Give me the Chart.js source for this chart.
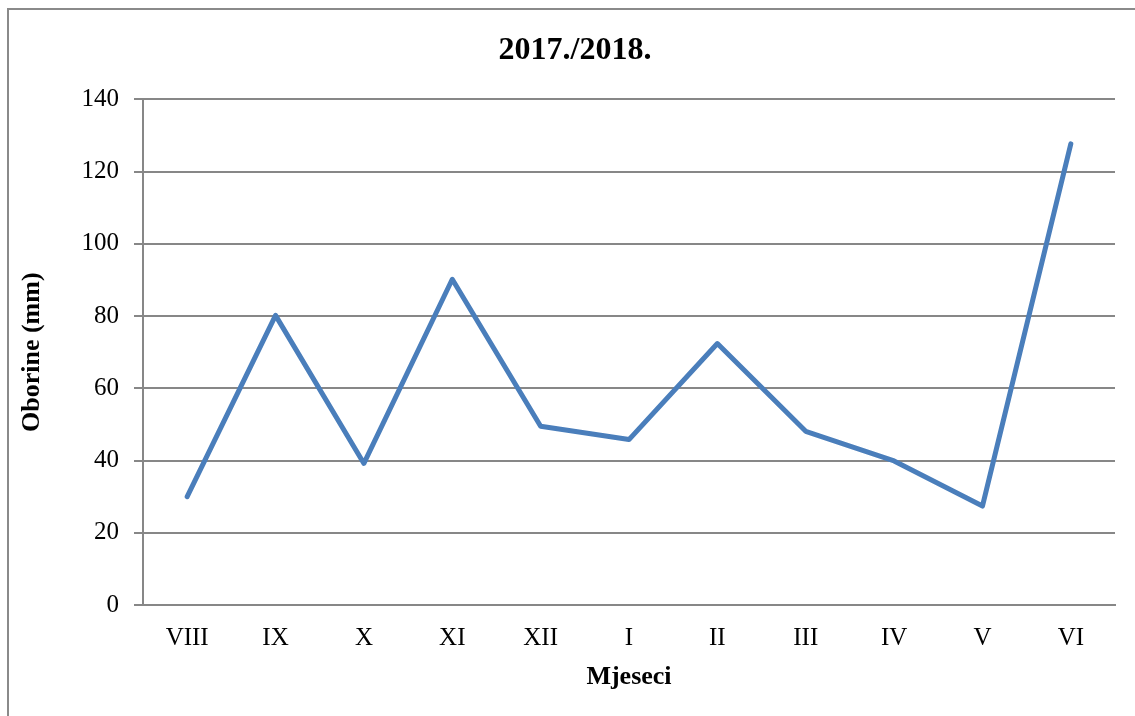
<!DOCTYPE html>
<html>
<head>
<meta charset="utf-8">
<script src="https://cdn.jsdelivr.net/npm/chart.js@4.4.1/dist/chart.umd.min.js"></script>
<style>
  html, body { margin: 0; padding: 0; background: #fff; overflow: hidden; }
  .frame {
    position: absolute;
    left: 7px;
    top: 8px;
    width: 2000px;
    height: 2000px;
    border-left: 2px solid #8a8a8a;
    border-top: 2px solid #8a8a8a;
  }
  .wrap { position: absolute; left: 0; top: 0; width: 1135px; height: 716px; }
</style>
</head>
<body>
<div class="frame"></div>
<div class="wrap"><canvas id="rainChart" width="1135" height="716"></canvas></div>
<script>
/* eslint-disable no-undef */
const months = ['VIII', 'IX', 'X', 'XI', 'XII', 'I', 'II', 'III', 'IV', 'V', 'VI'];
const rainfall = [30.0, 80.2, 39.2, 90.2, 49.5, 45.8, 72.4, 48.1, 39.9, 27.4, 127.7];
const yTicks = [0, 20, 40, 60, 80, 100, 120, 140];

const serif = 'Liberation Serif, Times New Roman, serif';
const gridGray = '#878787';

const ctx = document.getElementById('rainChart').getContext('2d');

new Chart(ctx, {
  type: 'line',
  data: {
    labels: months,
    datasets: [
      {
        label: 'Oborine',
        data: rainfall,
        borderColor: '#4a7ebb',
        borderWidth: 5,
        borderCapStyle: 'round',
        borderJoinStyle: 'round',
        pointRadius: 0,
        tension: 0,
        fill: false,
      },
    ],
  },
  options: {
    responsive: false,
    animation: false,
    layout: {
      padding: { left: 15, right: 0, top: 0, bottom: 0 },
    },
    plugins: {
      legend: { display: false },
      tooltip: { enabled: false },
      title: {
        display: true,
        text: '2017./2018.',
        color: '#000',
        font: { family: serif, size: 32, weight: 'bold' },
        padding: { top: 32, bottom: 29 },
      },
    },
    scales: {
      x: {
        offset: true,
        grid: { display: false, drawTicks: false },
        border: { display: true, color: gridGray, width: 2 },
        ticks: {
          color: '#000',
          padding: 18,
          font: { family: serif, size: 25 },
        },
        title: {
          display: true,
          text: 'Mjeseci',
          color: '#000',
          font: { family: serif, size: 26, weight: 'bold' },
          padding: { top: 0, bottom: 23 },
        },
        afterFit: (scale) => {
          scale.height = 111;
        },
      },
      y: {
        min: 0,
        max: 140,
        afterBuildTicks: (scale) => {
          scale.ticks = yTicks.map((v) => ({ value: v }));
        },
        grid: {
          color: gridGray,
          lineWidth: 2,
          drawTicks: true,
          tickLength: 9,
        },
        border: { display: true, color: gridGray, width: 2 },
        ticks: {
          color: '#000',
          padding: 15,
          font: { family: serif, size: 25 },
        },
        title: {
          display: true,
          text: 'Oborine (mm)',
          color: '#000',
          font: { family: serif, size: 26, weight: 'bold' },
          padding: { top: 2, bottom: 0 },
        },
        afterFit: (scale) => {
          scale.width = 128;
        },
      },
      // empty right-hand strip so the plot ends where the reference does
      yRight: {
        position: 'right',
        grid: { display: false, drawTicks: false },
        border: { display: false },
        ticks: { display: false },
        afterFit: (scale) => {
          scale.width = 20;
        },
      },
    },
  },
});
</script>
</body>
</html>
